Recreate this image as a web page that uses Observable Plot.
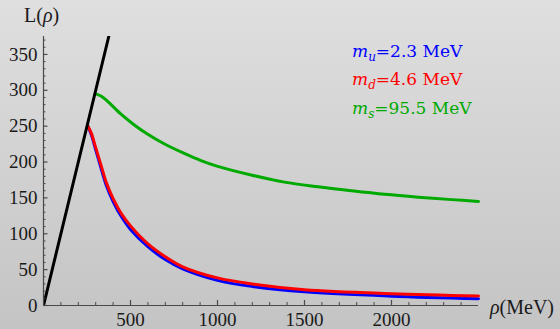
<!DOCTYPE html>
<html><head><meta charset="utf-8">
<script src="https://cdn.jsdelivr.net/npm/d3@7"></script>
<script src="https://cdn.jsdelivr.net/npm/@observablehq/plot@0.6"></script>
<style>
html,body{margin:0;padding:0;background:#d0d0d0;}
#chart{width:560px;height:329px;background:linear-gradient(to bottom,#dfdfdf,#c4c4c4);overflow:hidden;}
svg{display:block;}
</style></head><body><div id="chart"></div>
<script>
// ---- data ----
const limRho = [0, 375];
const limL   = [0, 375];
const rhoU = [255, 275, 300, 330, 360, 400, 450, 500, 600, 700, 800, 1000, 1200, 1500, 2000, 2500];
const Lu   = [250, 238, 217, 192, 168, 145, 123, 106, 82, 64, 51, 35, 26.5, 19, 13, 9.5];
const rhoD = [255, 275, 300, 330, 360, 400, 450, 500, 600, 700, 800, 1000, 1200, 1500, 2000, 2500];
const Ld   = [250, 240, 220, 196, 172, 149, 127, 111, 86, 68, 54, 38.5, 30, 22, 16.5, 13.4];
const rhoS = [300, 330, 367, 444, 520, 597, 693, 809, 905, 1001, 1193, 1385, 1577, 1769, 1961, 2154, 2346, 2500];
const Ls   = [295, 292, 285, 267, 252, 239, 225.5, 212, 202, 194, 182, 172, 165.5, 160, 155, 151, 147.6, 145];
const xTicks = [500, 1000, 1500, 2000];
const yTicks = [0, 50, 100, 150, 200, 250, 300, 350];
const legendLabels = [
  {sub: "u", rest: "=2.3 MeV", color: "#0000ff"},
  {sub: "d", rest: "=4.6 MeV", color: "#ff0000"},
  {sub: "s", rest: "=95.5 MeV", color: "#00aa00"}
];

const toRows = (xs, ys) => xs.map((x, i) => ({rho: x, L: ys[i]}));

// ---- layout ----
const W = 560, H = 329, mL = 43, mR = 82, mT = 36, mB = 24;
const innerW = W - mL - mR, innerH = H - mT - mB;
const xMinor = d3.range(100, 2500, 100).filter(d => d % 500 !== 0);
const yMinor = d3.range(10, 375, 10).filter(d => d % 50 !== 0);
const axisColor = "#4a4a4a";

const chart = Plot.plot({
  width: W, height: H,
  marginLeft: mL, marginRight: mR, marginTop: mT, marginBottom: mB,
  x: {domain: [0, 2500]},
  y: {domain: [0, 375]},
  style: {background: "transparent", fontFamily: "'Liberation Serif', serif", fontSize: "19px", color: "#1a1a1a", overflow: "visible"},
  marks: [
    Plot.line(toRows(rhoU, Lu), {x: "rho", y: "L", stroke: "#0000ff", strokeWidth: 3, curve: "catmull-rom"}),
    Plot.line(toRows(rhoD, Ld), {x: "rho", y: "L", stroke: "#ff0000", strokeWidth: 3, curve: "catmull-rom"}),
    Plot.line(toRows(rhoS, Ls), {x: "rho", y: "L", stroke: "#00aa00", strokeWidth: 3, curve: "catmull-rom"}),
    Plot.line(toRows(limRho, limL), {x: "rho", y: "L", stroke: "#000", strokeWidth: 3, clip: true}),
    // axes lines
    Plot.ruleY([0], {stroke: axisColor, strokeWidth: 1.2}),
    Plot.ruleX([0], {stroke: axisColor, strokeWidth: 1.2}),
    // inward ticks
    Plot.tickX(xTicks, {x: d => d, insetTop: innerH - 5, stroke: axisColor, strokeWidth: 1.2}),
    Plot.tickX(xMinor, {x: d => d, insetTop: innerH - 3, stroke: axisColor, strokeWidth: 1}),
    Plot.tickY(yTicks, {y: d => d, insetRight: innerW - 4.5, stroke: axisColor, strokeWidth: 1.2}),
    Plot.tickY(yMinor, {y: d => d, insetRight: innerW - 2.5, stroke: axisColor, strokeWidth: 1}),
    Plot.axisX({ticks: xTicks, tickSize: 0, tickPadding: 7, label: null, fontSize: 19, tickFormat: d => String(d)}),
    Plot.axisY({ticks: yTicks, tickSize: 0, tickPadding: 6, label: null, fontSize: 19, tickFormat: d => String(d)})
  ]
});

document.getElementById("chart").appendChild(chart);

const svg = d3.select(chart);
// axis titles
const t1 = svg.append("text").attr("x", 24).attr("y", 22).attr("text-anchor", "start")
  .attr("font-family", "'Liberation Serif', serif").attr("font-size", 20).attr("fill", "#1a1a1a");
t1.append("tspan").text("L(");
t1.append("tspan").attr("font-style", "italic").text("ρ");
t1.append("tspan").text(")");

const t2 = svg.append("text").attr("x", 490).attr("y", 314).attr("text-anchor", "start")
  .attr("font-family", "'Liberation Serif', serif").attr("font-size", 20).attr("fill", "#1a1a1a");
t2.append("tspan").attr("font-style", "italic").text("ρ");
t2.append("tspan").text("(MeV)");

// legend
legendLabels.forEach((d, i) => {
  const t = svg.append("text").attr("x", 352).attr("y", 56.5 + i * 28.7).attr("text-anchor", "start")
    .attr("font-family", "'DejaVu Serif', serif").attr("font-size", 17).attr("fill", d.color);
  t.append("tspan").attr("font-style", "italic").text("m");
  t.append("tspan").attr("font-style", "italic").attr("font-size", 12).attr("dy", 4).text(d.sub);
  t.append("tspan").attr("dy", -4).text(d.rest);
});
</script></body></html>
